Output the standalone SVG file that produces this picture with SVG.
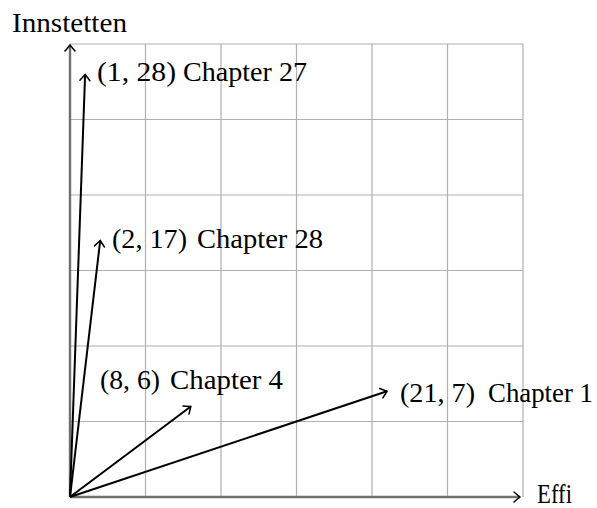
<svg xmlns="http://www.w3.org/2000/svg" width="597" height="508" viewBox="0 0 597 508">
<style>
.grid{stroke:#b0b0b0;stroke-width:1.2;fill:none}
.axis{stroke:#707070;stroke-width:2.4;fill:none}
.vec{stroke:#000;stroke-width:2;fill:none}
text{font-family:"Liberation Serif","Times New Roman",serif;font-size:27px;fill:#000}
</style>
<defs>
<marker id="to" markerUnits="userSpaceOnUse" markerWidth="14" markerHeight="14" viewBox="-8 -7 10 14" refX="0" refY="0" orient="auto">
<path d="M-6,-5 Q-1.5,-1.2 0,0 Q-1.5,1.2 -6,5" fill="none" stroke="#000" stroke-width="1.5" stroke-linecap="round"/>
</marker>
</defs>
<g id="grid">
<path class="grid" d="M70,44H523M70,119.5H523M70,195H523M70,270.5H523M70,346H523M70,421.5H523"/>
<path class="grid" d="M145.5,44V497M221,44V497M296.5,44V497M372,44V497M447.5,44V497M523,44V497"/>
</g>
<g id="axes">
<line class="axis" x1="70" y1="497" x2="520" y2="497" marker-end="url(#to)"/>
<line class="axis" x1="70" y1="497" x2="70" y2="45" marker-end="url(#to)"/>
<text x="12" y="32" textLength="115" lengthAdjust="spacingAndGlyphs">Innstetten</text>
<text x="537" y="503" textLength="35" lengthAdjust="spacingAndGlyphs">Effi</text>
</g>
<g id="connectors">
<line class="vec" x1="70" y1="497" x2="85.1" y2="74.5" marker-end="url(#to)"/>
<line class="vec" x1="70" y1="497" x2="100.2" y2="240.5" marker-end="url(#to)"/>
<line class="vec" x1="70" y1="497" x2="190.8" y2="406.5" marker-end="url(#to)"/>
<line class="vec" x1="70" y1="497" x2="387" y2="391.3" marker-end="url(#to)"/>
</g>
<g id="ch27">
<text x="97" y="81" textLength="79" lengthAdjust="spacingAndGlyphs">(1, 28)</text>
<text x="183" y="81" textLength="124" lengthAdjust="spacingAndGlyphs">Chapter 27</text>
</g>
<g id="ch28">
<text x="112" y="248" textLength="75" lengthAdjust="spacingAndGlyphs">(2, 17)</text>
<text x="197" y="248" textLength="126" lengthAdjust="spacingAndGlyphs">Chapter 28</text>
</g>
<g id="ch4">
<text x="100" y="389" textLength="60" lengthAdjust="spacingAndGlyphs">(8, 6)</text>
<text x="170" y="389" textLength="113" lengthAdjust="spacingAndGlyphs">Chapter 4</text>
</g>
<g id="ch1">
<text x="400" y="402" textLength="75" lengthAdjust="spacingAndGlyphs">(21, 7)</text>
<text x="488" y="402" textLength="105" lengthAdjust="spacingAndGlyphs">Chapter 1</text>
</g>
</svg>
